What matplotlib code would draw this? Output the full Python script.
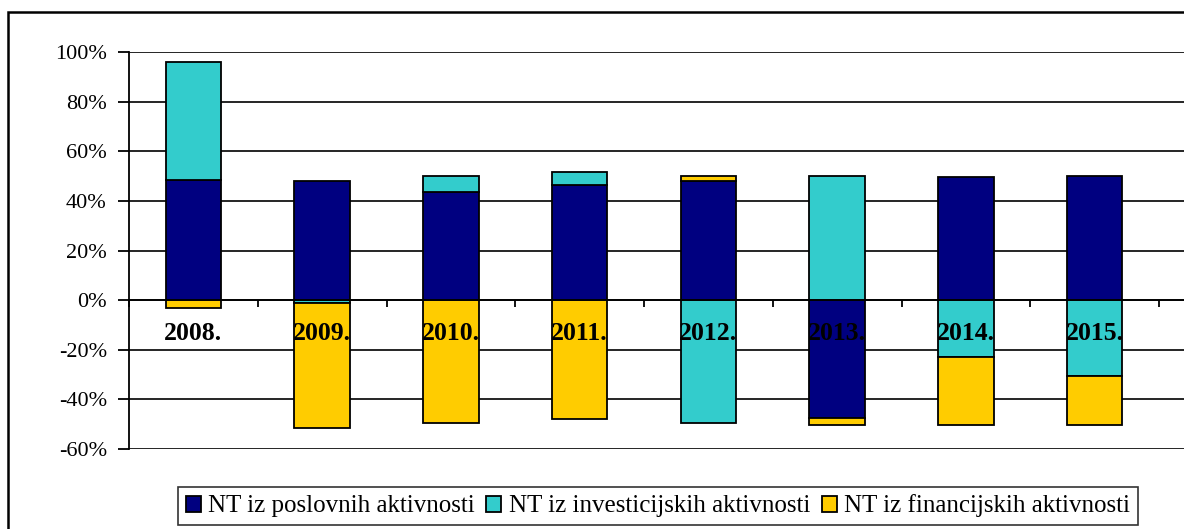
import matplotlib
matplotlib.use("Agg")
import matplotlib.pyplot as plt
import numpy as np
from matplotlib.patches import Rectangle
from matplotlib.ticker import FixedLocator, PercentFormatter

years = ["2008.", "2009.", "2010.", "2011.", "2012.", "2013.", "2014.", "2015."]
series_names = [
    "NT iz poslovnih aktivnosti",
    "NT iz investicijskih aktivnosti",
    "NT iz financijskih aktivnosti",
]
poslovne = [48.5, 48.0, 43.5, 46.5, 48.0, -47.5, 49.5, 50.0]
investicijske = [47.5, -1.0, 6.5, 5.0, -49.5, 50.0, -23.0, -30.5]
financijske = [-3.0, -50.5, -49.5, -48.0, 2.0, -3.0, -27.5, -20.0]
colors = ["#000080", "#33CCCC", "#FFCC00"]
y_ticks = [-60, -40, -20, 0, 20, 40, 60, 80, 100]

plt.rcParams["font.family"] = ["Liberation Serif", "DejaVu Serif"]
plt.rcParams["axes.unicode_minus"] = False

fig = plt.figure(figsize=(11.84, 5.29), dpi=100)
ax = fig.add_axes([129 / 1184, 1 - 449 / 529, 1 - 129 / 1184, 397 / 529])

x = np.arange(len(years))
pos_base = np.zeros(len(years))
neg_base = np.zeros(len(years))
for vals, col, name in zip([poslovne, investicijske, financijske], colors, series_names):
    v = np.array(vals)
    bottom = np.where(v >= 0, pos_base, neg_base)
    ax.bar(x, v, width=0.43, bottom=bottom, color=col, edgecolor="black",
           linewidth=1.3, label=name, zorder=2)
    pos_base += np.where(v >= 0, v, 0)
    neg_base += np.where(v < 0, v, 0)

ax.set_ylim(-60, 100)
ax.set_xlim(-0.5, 7.5 + 25 / 128.75)
ax.yaxis.set_major_locator(FixedLocator(y_ticks))
ax.yaxis.set_major_formatter(PercentFormatter(decimals=0))
ax.grid(axis="y", color="black", linewidth=1.2)
ax.yaxis.set_zorder(0.5)
ax.xaxis.set_zorder(3)

# x axis at zero, ticks at category boundaries, labels at centres
ax.spines["bottom"].set_position(("data", 0))
ax.spines["bottom"].set_linewidth(1.3)
ax.spines["left"].set_linewidth(1.3)
ax.spines["top"].set_visible(False)
ax.spines["right"].set_visible(False)
ax.set_xticks(np.arange(len(years) + 1) - 0.5)
ax.set_xticklabels([])
ax.tick_params(axis="x", which="major", direction="out", length=5, width=1.3)
ax.set_xticks(x, minor=True)
ax.set_xticklabels(years, minor=True, fontsize=18.5, fontweight="bold")
ax.tick_params(axis="x", which="minor", length=0, pad=16)
ax.tick_params(axis="y", direction="out", length=8, width=1.3, labelsize=16, pad=8)

leg = ax.legend(loc="upper center", bbox_to_anchor=(658 / 1184, 1 - 487 / 529),
                bbox_transform=fig.transFigure, ncol=3, frameon=True, fancybox=False,
                fontsize=18, handlelength=0.6, handleheight=0.6, handletextpad=0.3,
                columnspacing=0.45, borderpad=0.3, borderaxespad=0)
leg.get_frame().set_edgecolor("black")
leg.get_frame().set_linewidth(1.2)

# outer chart border (cut off on right and bottom)
fig.patches.append(Rectangle((8 / 1184, -0.1), 1.2, 1.1 - 12 / 529,
                             transform=fig.transFigure, fill=False,
                             edgecolor="black", linewidth=1.8))

fig.savefig("out.png", dpi=100)
